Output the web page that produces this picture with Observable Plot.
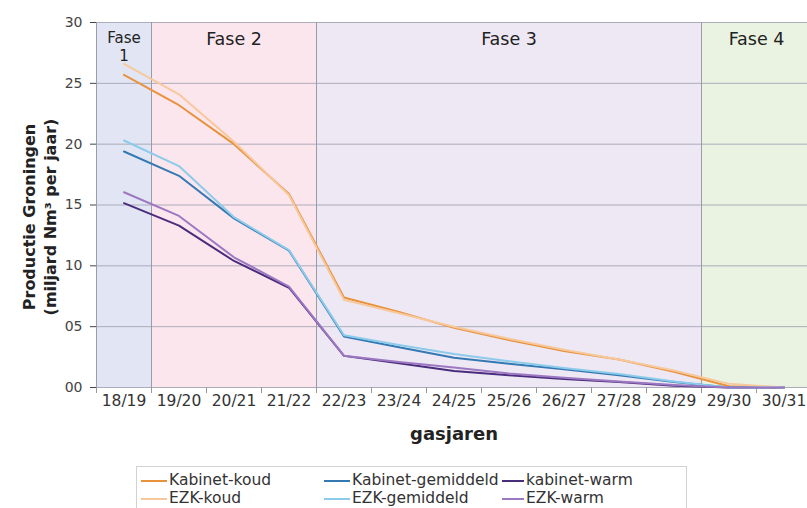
<!DOCTYPE html>
<html><head><meta charset="utf-8">
<script src="https://cdn.jsdelivr.net/npm/d3@7"></script>
<script src="https://cdn.jsdelivr.net/npm/@observablehq/plot@0.6"></script>
<style>
html,body{margin:0;padding:0;background:#fff;overflow:hidden;}
body{width:807px;height:508px;font-family:"DejaVu Sans",Verdana,sans-serif;}
#chart svg{display:block;}
#legend{position:relative;margin-left:136px;margin-top:16px;width:551px;height:44px;border:1px solid #d2d2d2;border-bottom:none;box-sizing:border-box;}
.item{position:absolute;display:flex;align-items:center;font-size:15.5px;color:#333;line-height:1;white-space:nowrap;height:18px;}
.item svg{display:block;margin-right:2px;}
</style></head><body>
<div id="chart"></div>
<div id="legend"></div>
<script>
const years = ["18/19","19/20","20/21","21/22","22/23","23/24","24/25","25/26","26/27","27/28","28/29","29/30","30/31"];
const kabinetKoud = [25.7, 23.2, 20.0, 15.9, 7.4, 6.2, 4.9, 3.9, 3.0, 2.3, 1.3, 0.1, 0];
const ezkKoud = [26.6, 24.1, 20.2, 15.8, 7.2, 6.1, 5.0, 4.0, 3.1, 2.3, 1.4, 0.3, 0];
const kabinetGemiddeld = [19.4, 17.4, 13.9, 11.25, 4.2, 3.3, 2.45, 1.95, 1.5, 1.0, 0.45, 0, 0];
const ezkGemiddeld = [20.3, 18.2, 14.0, 11.3, 4.3, 3.5, 2.75, 2.15, 1.6, 1.1, 0.5, 0, 0];
const kabinetWarm = [15.15, 13.3, 10.4, 8.2, 2.6, 2.0, 1.35, 1.0, 0.7, 0.45, 0.15, 0, 0];
const ezkWarm = [16.05, 14.1, 10.7, 8.3, 2.6, 2.1, 1.65, 1.15, 0.8, 0.5, 0.2, 0, 0];

const seriesNames = ["Kabinet-koud","Kabinet-gemiddeld","kabinet-warm","EZK-koud","EZK-gemiddeld","EZK-warm"];
const seriesValues = [kabinetKoud, kabinetGemiddeld, kabinetWarm, ezkKoud, ezkGemiddeld, ezkWarm];
const seriesColors = ["#E8923E","#3579B3","#4A2C7C","#F6C89C","#8CCBEA","#9D78C2"];

const phaseNames = ["Fase\n1","Fase 2","Fase 3","Fase 4"];
const phaseStart = [-0.5, 0.5, 3.5, 10.5];
const phaseEnd = [0.5, 3.5, 10.5, 12.5];
const phaseColors = ["#E2E6F4","#FCE6EE","#EEE8F4","#EAF3E1"];

const yTicks = [0,5,10,15,20,25,30];
const xTitle = "gasjaren";
const yTitle = "Productie Groningen\n(miljard Nm³ per jaar)";

const phases = phaseNames.map((name, i) => ({name, start: phaseStart[i], end: phaseEnd[i], color: phaseColors[i], mid: (phaseStart[i] + phaseEnd[i]) / 2}));
const rows = [];
seriesNames.forEach((s, k) => seriesValues[k].forEach((v, i) => rows.push({series: s, i, value: v})));

const plot = Plot.plot({
  width: 807,
  height: 450,
  marginTop: 22,
  marginBottom: 63,
  marginLeft: 96,
  marginRight: 0,
  style: {fontFamily: "DejaVu Sans, Verdana, sans-serif", background: "white", color: "#333"},
  x: {type: "linear", domain: [-0.5, 12.5], range: [96, 811], label: null},
  y: {domain: [0, 30], label: null},
  color: {domain: seriesNames, range: seriesColors},
  marks: [
    Plot.rect(phases, {x1: "start", x2: "end", y1: 0, y2: 30, fill: "color"}),
    Plot.ruleY(yTicks, {stroke: "#ABABBA", strokeWidth: 1}),
    Plot.ruleX(phaseStart, {stroke: "#9C9CA8", strokeWidth: 1}),
    Plot.axisY(yTicks, {tickSize: 6, tickPadding: 8, tickFormat: d3.format("02d"), fontSize: 14, color: "#444", label: null}),
    Plot.axisX(d3.range(-0.5, 13, 1), {tickSize: 6, tickFormat: () => "", stroke: "#999", label: null}),
    Plot.axisX(d3.range(13), {tickSize: 0, tickPadding: 7, tickFormat: i => years[i], fontSize: 15.5, fill: "#333", label: null}),
    Plot.lineY(rows, {x: "i", y: "value", z: "series", stroke: "series", strokeWidth: 2, strokeLinejoin: "round"}),
    Plot.text(phases.slice(0, 1), {x: "mid", y: 30, text: "name", dy: 8, lineAnchor: "top", fontSize: 15, lineHeight: 1.2, fill: "#222"}),
    Plot.text(phases.slice(1), {x: "mid", y: 30, text: "name", dy: 17, lineAnchor: "middle", fontSize: 17.5, fill: "#222"}),
    Plot.text([xTitle], {frameAnchor: "bottom", x: 6, dy: 47, lineAnchor: "middle", fontSize: 18, fontWeight: "bold", fill: "#222"}),
    Plot.text([yTitle], {frameAnchor: "left", dx: -58, dy: 12, rotate: -90, textAnchor: "middle", lineAnchor: "middle", fontSize: 16, fontWeight: "bold", lineHeight: 1.3, fill: "#222"})
  ]
});
document.getElementById("chart").appendChild(plot);

// legend
const legendPos = {
  "Kabinet-koud": [4, 5], "EZK-koud": [4, 23],
  "Kabinet-gemiddeld": [187, 5], "EZK-gemiddeld": [187, 23],
  "kabinet-warm": [365, 5], "EZK-warm": [365, 23]
};
const legend = document.getElementById("legend");
seriesNames.forEach((s, k) => {
  const [lx, ly] = legendPos[s];
  const div = document.createElement("div");
  div.className = "item";
  div.style.left = lx + "px";
  div.style.top = ly + "px";
  const w = lx > 300 ? 22 : 26;
  div.innerHTML = `<svg width="${w}" height="4"><line x1="0" x2="${w}" y1="2" y2="2" stroke="${seriesColors[k]}" stroke-width="2"/></svg><span>${s}</span>`;
  legend.appendChild(div);
});
</script>
</body></html>
